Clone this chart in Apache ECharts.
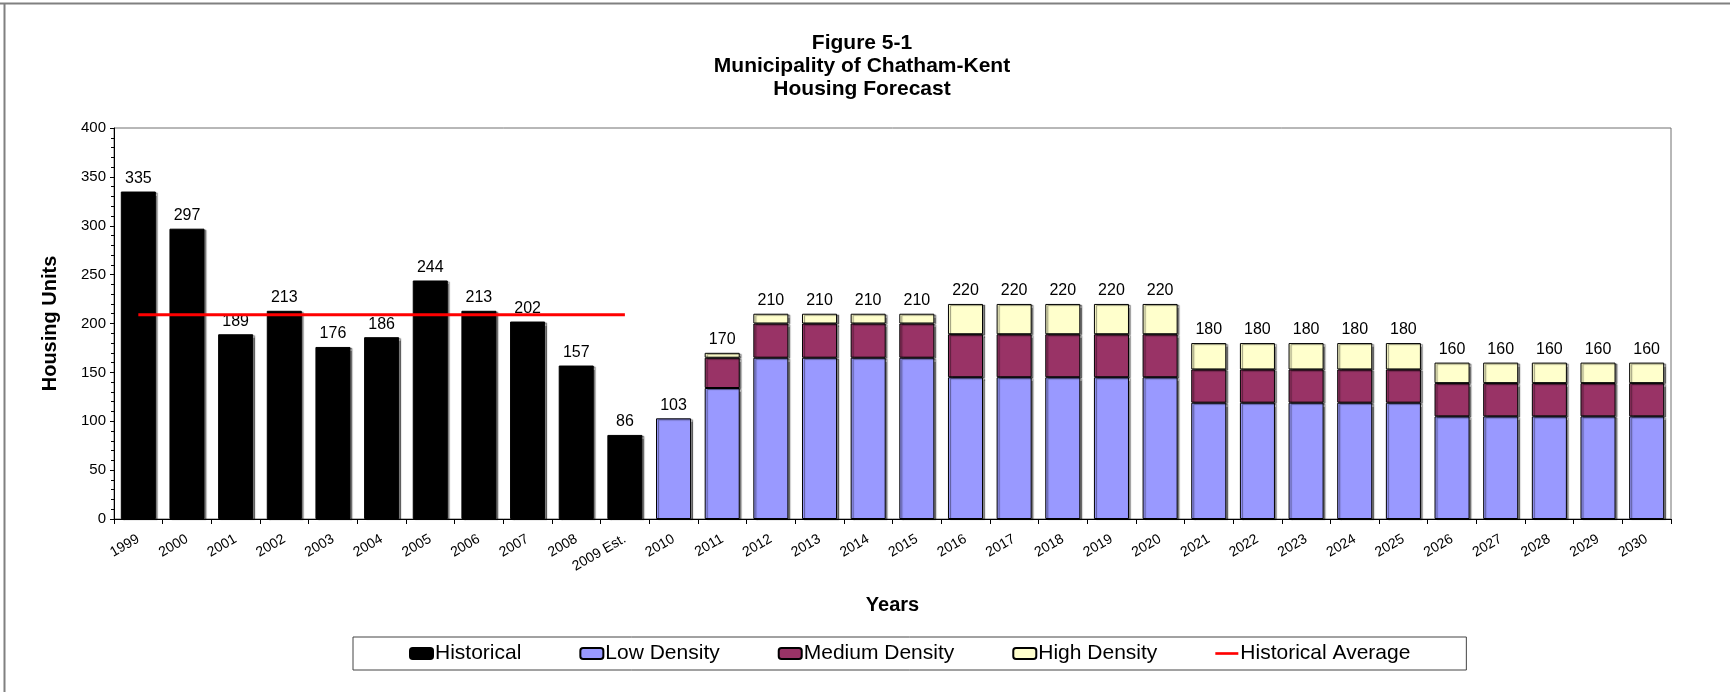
<!DOCTYPE html>
<html>
<head>
<meta charset="utf-8">
<title>Housing Forecast</title>
<script src="https://cdn.jsdelivr.net/npm/echarts@6/dist/echarts.min.js"></script>
<style>
  html, body { margin: 0; padding: 0; background: #fff; }
  #main { width: 1730px; height: 692px; }
</style>
</head>
<body>
<div id="main"></div>
<script>
// 数据
var years = ['1999', '2000', '2001', '2002', '2003', '2004', '2005', '2006', '2007', '2008', '2009 Est.',
  '2010', '2011', '2012', '2013', '2014', '2015', '2016', '2017', '2018', '2019', '2020',
  '2021', '2022', '2023', '2024', '2025', '2026', '2027', '2028', '2029', '2030'];

var historical = [335, 297, 189, 213, 176, 186, 244, 213, 202, 157, 86,
  '-', '-', '-', '-', '-', '-', '-', '-', '-', '-', '-',
  '-', '-', '-', '-', '-', '-', '-', '-', '-', '-'];

var lowDensity = ['-', '-', '-', '-', '-', '-', '-', '-', '-', '-', '-',
  103, 134, 165, 165, 165, 165, 145, 145, 145, 145, 145,
  119, 119, 119, 119, 119, 105, 105, 105, 105, 105];

var mediumDensity = ['-', '-', '-', '-', '-', '-', '-', '-', '-', '-', '-',
  '-', 31, 35, 35, 35, 35, 44, 44, 44, 44, 44,
  34, 34, 34, 34, 34, 34, 34, 34, 34, 34];

var highDensity = ['-', '-', '-', '-', '-', '-', '-', '-', '-', '-', '-',
  '-', 5, 10, 10, 10, 10, 31, 31, 31, 31, 31,
  27, 27, 27, 27, 27, 21, 21, 21, 21, 21];

var historicalAverage = [209, 209, 209, 209, 209, 209, 209, 209, 209, 209, 209,
  '-', '-', '-', '-', '-', '-', '-', '-', '-', '-', '-',
  '-', '-', '-', '-', '-', '-', '-', '-', '-', '-'];

// 柱顶标签（合计）
var totals = [335, 297, 189, 213, 176, 186, 244, 213, 202, 157, 86,
  103, 170, 210, 210, 210, 210, 220, 220, 220, 220, 220,
  180, 180, 180, 180, 180, 160, 160, 160, 160, 160];

(function() {
  var font = 'Liberation Sans, Arial, sans-serif';
  var myChart = echarts.init(document.getElementById('main'));

  var barShadow = {
    shadowColor: 'rgba(0,0,0,0.45)',
    shadowBlur: 1,
    shadowOffsetX: 2,
    shadowOffsetY: 1
  };

  var option = {
    backgroundColor: '#fff',
    animation: false,
    textStyle: { fontFamily: font, color: '#000' },
    title: {
      text: 'Figure 5-1\nMunicipality of Chatham-Kent\nHousing Forecast',
      // 标题中心略偏左
      left: 857,
      textAlign: 'center',
      top: 27,
      textStyle: {
        fontFamily: font,
        fontSize: 21,
        fontWeight: 'bold',
        lineHeight: 23,
        color: '#000'
      }
    },
    legend: {
      data: [
        'Historical', 'Low Density', 'Medium Density', 'High Density',
        { name: 'Historical Average', icon: 'path://M0,0 L26,0 L26,3 L0,3 Z' }
      ],
      left: 353,
      top: 637,
      padding: [6, 56],
      itemGap: 58,
      itemWidth: 23,
      itemHeight: 11,
      borderColor: '#444',
      borderWidth: 1,
      textStyle: {
        fontFamily: font,
        fontSize: 21,
        color: '#000',
        padding: [0, 0, 0, -3]
      }
    },
    grid: {
      left: 114,
      right: 59,
      top: 128,
      bottom: 173,
      show: true,
      borderColor: '#707070',
      borderWidth: 1
    },
    xAxis: {
      type: 'category',
      data: years,
      name: 'Years',
      nameLocation: 'middle',
      nameGap: 76,
      nameTextStyle: { fontFamily: font, fontSize: 20, fontWeight: 'bold', color: '#000' },
      axisLine: { lineStyle: { color: '#000', width: 1 } },
      axisTick: { show: true, length: 5, lineStyle: { color: '#000' } },
      axisLabel: {
        interval: 0,
        rotate: 30,
        margin: 19,
        fontFamily: font,
        fontSize: 14,
        color: '#000'
      }
    },
    yAxis: {
      type: 'value',
      min: 0,
      max: 400,
      interval: 50,
      name: 'Housing Units',
      nameLocation: 'middle',
      nameGap: 54,
      nameTextStyle: { fontFamily: font, fontSize: 20, fontWeight: 'bold', color: '#000' },
      axisLine: { show: true, lineStyle: { color: '#000', width: 1 } },
      axisTick: { show: true, length: 4, lineStyle: { color: '#000' } },
      minorTick: { show: true, splitNumber: 5, length: 3, lineStyle: { color: '#000' } },
      splitLine: { show: false },
      axisLabel: { fontFamily: font, fontSize: 15, color: '#000', margin: 8 }
    },
    series: [
      {
        name: 'Historical',
        type: 'bar',
        stack: 'a',
        barCategoryGap: '28%',
        data: historical,
        itemStyle: Object.assign({ color: '#000', borderColor: '#000', borderWidth: 1 }, barShadow)
      },
      {
        name: 'Low Density',
        type: 'bar',
        stack: 'a',
        data: lowDensity,
        itemStyle: Object.assign({ color: '#9999FF', borderColor: '#000', borderWidth: 1 }, barShadow)
      },
      {
        name: 'Medium Density',
        type: 'bar',
        stack: 'a',
        data: mediumDensity,
        itemStyle: Object.assign({ color: '#993366', borderColor: '#000', borderWidth: 1 }, barShadow)
      },
      {
        name: 'High Density',
        type: 'bar',
        stack: 'a',
        data: highDensity,
        itemStyle: Object.assign({ color: '#FFFFCC', borderColor: '#000', borderWidth: 1 }, barShadow)
      },
      {
        // 零高度柱，只用来显示合计标签
        name: 'total',
        type: 'bar',
        stack: 'a',
        data: totals.map(function() { return 0; }),
        itemStyle: { color: 'rgba(0,0,0,0)' },
        label: {
          show: true,
          position: 'top',
          distance: 5,
          fontFamily: font,
          fontSize: 16,
          color: '#000',
          formatter: function(p) { return totals[p.dataIndex]; }
        }
      },
      {
        name: 'Historical Average',
        type: 'line',
        data: historicalAverage,
        symbol: 'none',
        z: 5,
        lineStyle: { color: '#FF0000', width: 3 },
        itemStyle: { color: '#FF0000' }
      }
    ],
    graphic: [
      {
        type: 'line',
        shape: { x1: 0, y1: 3.5, x2: 1730, y2: 3.5 },
        style: { stroke: '#808080', lineWidth: 2 }
      },
      {
        type: 'line',
        shape: { x1: 4.5, y1: 3, x2: 4.5, y2: 692 },
        style: { stroke: '#808080', lineWidth: 2 }
      }
    ]
  };

  myChart.setOption(option);
  window.addEventListener('resize', function() {
    myChart.resize();
  });
})();
</script>
</body>
</html>
